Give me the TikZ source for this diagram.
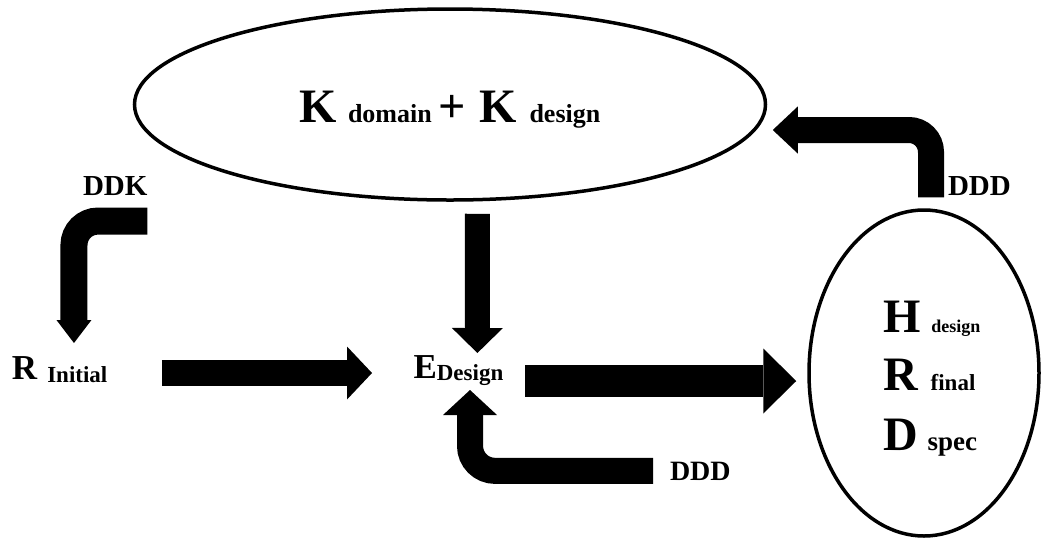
\documentclass[tikz,border=0pt]{standalone}
\usepackage{fontspec}
\setmainfont{Liberation Serif}
\usetikzlibrary{arrows.meta,shapes.geometric}
\newcommand{\fsz}[2]{{\fontsize{#1}{#1}\selectfont #2}}
\begin{document}
\begin{tikzpicture}[x=1pt,y=-1pt,
  txt/.style={inner sep=0pt, outer sep=0pt, font=\bfseries},
  oval/.style={draw, ellipse, line width=3.5pt, inner sep=0pt},
  fat/.style n args={3}{line width=#1, -{Triangle[width=#2, length=#3, line width=0pt]}}
]
\fill[white] (0,0) rectangle (1042,542);
\path[use as bounding box] (0,0) rectangle (1042,542);

% knowledge ellipse
\node[oval, minimum width=631pt, minimum height=191pt, font=\bfseries,
      text height=35pt, text depth=0pt] (kn) at (450,104.5)
  {\fsz{48}{K}\hspace{11pt}\fsz{26}{domain}\hspace{7pt}\fsz{48}{+}\hspace{13pt}\fsz{48}{K}\hspace{13pt}\fsz{26}{design}};

% result ellipse
\node[oval, minimum width=230pt, minimum height=326pt] (hn) at (924,373) {};
\node[txt, anchor=base west] (hd) at (883,332) {\fsz{48}{H}\hspace{11pt}\fsz{18}{design}};
\node[txt, anchor=base west] (rf) at (883,390) {\fsz{48}{R}\hspace{13pt}\fsz{23}{final}};
\node[txt, anchor=base west] (ds) at (883,450) {\fsz{48}{D}\hspace{10pt}\fsz{27}{spec}};

% requirement and design entity
\node[txt, anchor=base west, text height=20pt, text depth=8pt] (rn) at (12,379)
  {\fsz{35}{R}\hspace{10pt}\raisebox{-3pt}{\fsz{23}{Initial}}};
\node[txt, anchor=base west, text height=20pt, text depth=10pt] (en) at (413.5,378)
  {\fsz{35}{E}\raisebox{-2pt}{\fsz{23}{Design}}};

% labels
\node[txt, anchor=base west] (ddk) at (83,195) {\fsz{29}{DDK}};
\node[txt, anchor=base west] (ddd1) at (948,195) {\fsz{29}{DDD}};
\node[txt, anchor=base west] (ddd2) at (670,480) {\fsz{28}{DDD}};

% straight flows
\draw[fat={26pt}{53pt}{25pt}, shorten <=54.6pt, shorten >=41.5pt] (rn.east) -- (en.west);
\draw[fat={32pt}{65pt}{33pt}, shorten <=21.8pt, shorten >=11pt]
  ([yshift=-8pt]en.east) -- ([yshift=-8pt]hn.west);
\draw[fat={25pt}{51pt}{25pt}, shorten <=12pt, shorten >=5pt]
  ([xshift=27.5pt]kn.south) -- ([xshift=19pt]en.north);

% bent feedback flows
\draw[fat={27pt}{35pt}{23pt}, rounded corners=24pt]
  ([yshift=-26pt]ddk.south east) -| ([xshift=14.3pt,yshift=16pt]rn.north);
\draw[fat={26pt}{47pt}{25pt}, rounded corners=22pt, shorten <=11pt, shorten >=5.5pt]
  ([xshift=7pt]hn.north) |- ([yshift=-25.5pt]kn.east);
\draw[fat={26pt}{54pt}{25pt}, rounded corners=25pt, shorten <=17pt]
  (ddd2.west) -| ([xshift=11.6pt,yshift=-2pt]en.south);
\end{tikzpicture}
\end{document}
